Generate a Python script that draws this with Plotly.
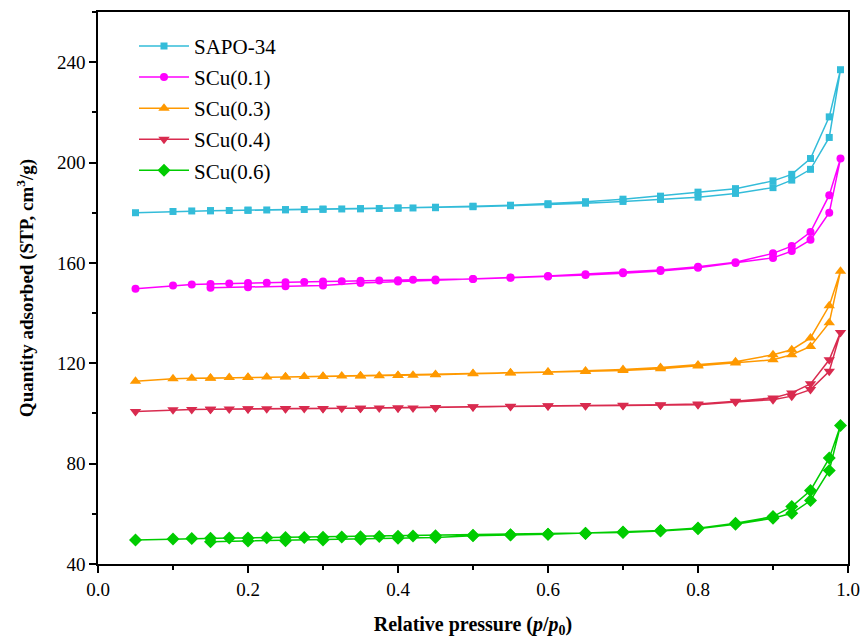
import plotly.graph_objects as go

# Relative pressure points
ads_x = [0.05, 0.1, 0.125, 0.15, 0.175, 0.2, 0.225, 0.25, 0.275, 0.3, 0.325, 0.35, 0.375, 0.4,
         0.42, 0.45, 0.5, 0.55, 0.6, 0.65, 0.7, 0.75, 0.8, 0.85, 0.9, 0.925, 0.95, 0.975, 0.99]
des_x = [0.975, 0.95, 0.925, 0.9, 0.85, 0.8, 0.75, 0.7, 0.65, 0.6, 0.55, 0.5, 0.45, 0.4,
         0.35, 0.3, 0.25, 0.2, 0.15]

names = ["SAPO-34", "SCu(0.1)", "SCu(0.3)", "SCu(0.4)", "SCu(0.6)"]

sapo_ads = [180.0, 180.5, 180.7, 180.8, 180.9, 181.0, 181.1, 181.2, 181.3, 181.4, 181.5, 181.6, 181.7, 181.8,
            181.9, 182.0, 182.4, 182.8, 183.2, 183.8, 184.5, 185.3, 186.2, 187.7, 190.0, 193.0, 197.3, 210.0, 237.0]
sapo_des = [218.2, 201.6, 195.3, 192.7, 189.6, 188.2, 186.6, 185.4, 184.4, 183.6, 183.0, 182.6, 182.2, 181.9,
            181.6, 181.4, 181.2, 181.0, 180.8]

scu1_ads = [149.7, 151.0, 151.4, 151.6, 151.8, 152.0, 152.1, 152.3, 152.4, 152.6, 152.7, 152.9, 153.0, 153.1,
            153.3, 153.4, 153.6, 154.1, 154.6, 155.2, 155.9, 156.8, 158.1, 160.0, 162.0, 164.7, 169.2, 180.0, 201.6]
scu1_des = [187.0, 172.3, 166.7, 163.8, 160.3, 158.5, 157.2, 156.3, 155.5, 154.8, 154.2, 153.6, 153.0, 152.6,
            152.0, 151.0, 150.7, 150.3, 150.1]

scu3_ads = [112.8, 113.8, 114.0, 114.1, 114.3, 114.4, 114.5, 114.6, 114.7, 114.8, 114.9, 115.0, 115.0, 115.1,
            115.2, 115.4, 115.8, 116.1, 116.4, 116.7, 117.1, 117.8, 118.9, 120.1, 121.4, 123.4, 126.7, 136.2, 156.7]
scu3_des = [142.9, 130.1, 125.4, 123.4, 120.6, 119.3, 118.3, 117.5, 116.9, 116.5, 116.2, 115.9, 115.5, 115.1,
            114.9, 114.7, 114.5, 114.3, 114.0]

scu4_ads = [100.8, 101.5, 101.6, 101.7, 101.8, 101.9, 101.9, 102.0, 102.0, 102.0, 102.1, 102.1, 102.2, 102.2,
            102.2, 102.3, 102.6, 102.8, 103.0, 103.1, 103.2, 103.3, 103.5, 104.6, 105.5, 106.9, 109.5, 116.8, 132.3]
scu4_des = [121.4, 111.8, 108.2, 106.2, 104.9, 103.8, 103.5, 103.3, 103.2, 103.1, 102.9, 102.7, 102.4, 102.2,
            102.1, 102.0, 101.9, 101.8, 101.7]

scu6_ads = [49.6, 50.0, 50.2, 50.3, 50.4, 50.4, 50.5, 50.6, 50.6, 50.7, 50.8, 50.9, 51.0, 51.1,
            51.2, 51.3, 51.5, 51.7, 51.9, 52.2, 52.6, 53.2, 54.0, 55.8, 58.2, 60.2, 65.3, 77.3, 95.2]
scu6_des = [82.2, 69.3, 62.9, 58.9, 56.2, 54.3, 53.4, 52.8, 52.3, 51.9, 51.6, 51.3, 50.6, 50.3,
            49.9, 49.6, 49.3, 49.2, 48.9]

series_ads = [sapo_ads, scu1_ads, scu3_ads, scu4_ads, scu6_ads]
series_des = [sapo_des, scu1_des, scu3_des, scu4_des, scu6_des]
colors = ["#33BCD9", "#FF00FF", "#FF9900", "#D92B4F", "#00CC00"]
symbols = ["square", "circle", "triangle-up", "triangle-down", "diamond"]
sizes = [7, 8, 10, 10, 10]

fig = go.Figure()
for i, name in enumerate(names):
    fig.add_trace(go.Scatter(
        x=ads_x + des_x,
        y=series_ads[i] + series_des[i],
        mode="lines+markers",
        name=name,
        legendgroup=name,
        line=dict(color=colors[i], width=1.5),
        marker=dict(symbol=symbols[i], size=sizes[i], color=colors[i]),
    ))

font_family = "Liberation Serif, Times New Roman, serif"
fig.update_layout(
    width=868, height=641,
    margin=dict(l=98, r=20, t=12, b=77),
    paper_bgcolor="white", plot_bgcolor="white",
    font=dict(family=font_family, color="black", size=18),
    showlegend=True,
    legend=dict(x=0.048, y=0.975, xanchor="left", yanchor="top",
                font=dict(family=font_family, size=21, color="black"),
                bgcolor="rgba(0,0,0,0)", tracegroupgap=0.8, itemwidth=50),
    xaxis=dict(range=[0, 1.0], tickvals=[0, 0.2, 0.4, 0.6, 0.8, 1.0],
               ticktext=["0.0", "0.2", "0.4", "0.6", "0.8", "1.0"],
               ticks="outside", ticklen=7, tickwidth=1.5, tickcolor="black",
               minor=dict(dtick=0.1, tick0=0, ticks="outside", ticklen=4, tickwidth=1.5, tickcolor="black"),
               showline=True, linecolor="black", linewidth=1.5, mirror=True,
               showgrid=False, zeroline=False, automargin=False,
               tickfont=dict(size=19),
               title=dict(text="<b>Relative pressure (<i>p</i>/<i>p</i><sub>0</sub>)</b>",
                          font=dict(size=20), standoff=18)),
    yaxis=dict(range=[40, 260], tickvals=[40, 80, 120, 160, 200, 240],
               ticks="outside", ticklen=7, tickwidth=1.5, tickcolor="black",
               minor=dict(dtick=20, tick0=40, ticks="outside", ticklen=4, tickwidth=1.5, tickcolor="black"),
               showline=True, linecolor="black", linewidth=1.5, mirror=True,
               showgrid=False, zeroline=False, automargin=False,
               tickfont=dict(size=19),
               title=dict(text="<b>Quantity adsorbed (STP, cm<sup>3</sup>/g)</b>",
                          font=dict(size=19), standoff=18)),
)

fig.write_html("out.html")
